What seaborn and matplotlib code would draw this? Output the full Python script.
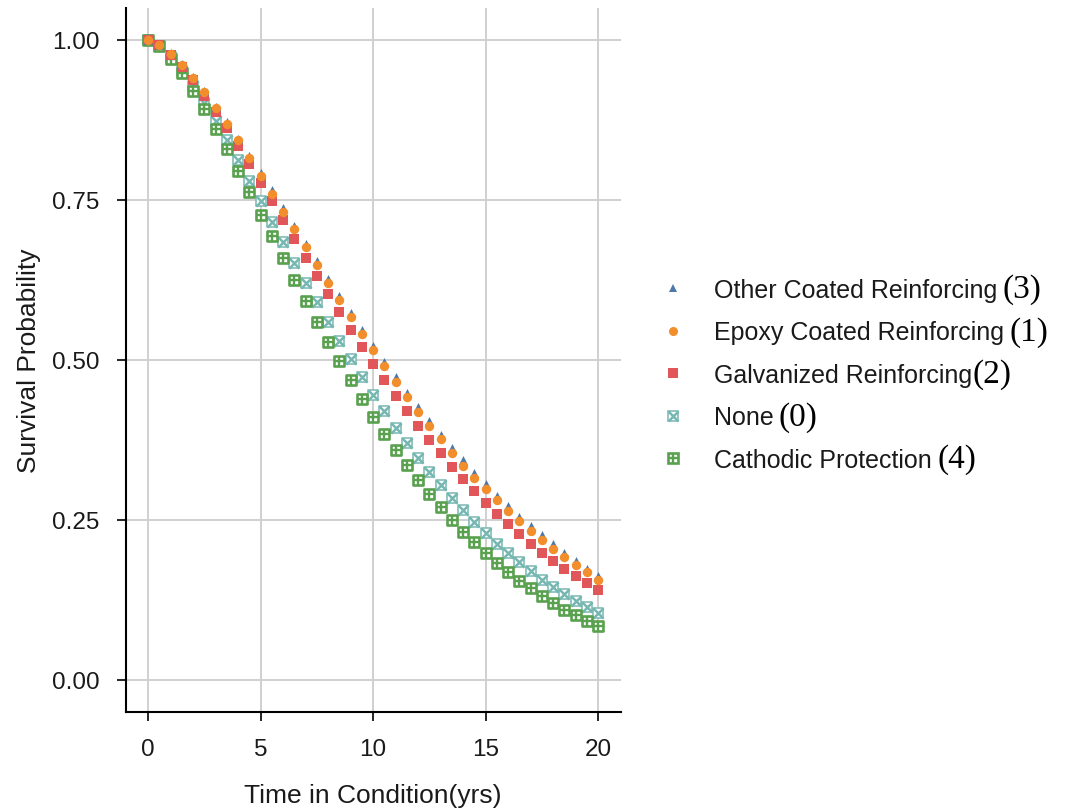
import matplotlib
matplotlib.use("Agg")
import numpy as np
import pandas as pd
import matplotlib.pyplot as plt
import seaborn as sns
from matplotlib.lines import Line2D
from matplotlib.legend_handler import HandlerTuple
from matplotlib.ticker import FormatStrFormatter

# ---------------- data ----------------
time_yrs = [0.0, 0.5, 1.0, 1.5, 2.0, 2.5, 3.0, 3.5, 4.0, 4.5, 5.0, 5.5, 6.0, 6.5,
            7.0, 7.5, 8.0, 8.5, 9.0, 9.5, 10.0, 10.5, 11.0, 11.5, 12.0, 12.5,
            13.0, 13.5, 14.0, 14.5, 15.0, 15.5, 16.0, 16.5, 17.0, 17.5, 18.0,
            18.5, 19.0, 19.5, 20.0]

other_coated = [1.000, 0.992, 0.979, 0.962, 0.942, 0.920, 0.896, 0.872, 0.846, 0.819,
                0.792, 0.765, 0.737, 0.709, 0.681, 0.654, 0.627, 0.600, 0.573, 0.547,
                0.522, 0.497, 0.473, 0.449, 0.427, 0.405, 0.383, 0.363, 0.343, 0.324,
                0.306, 0.288, 0.272, 0.255, 0.240, 0.226, 0.212, 0.199, 0.186, 0.174,
                0.163]
epoxy_coated = [1.000, 0.992, 0.978, 0.961, 0.941, 0.918, 0.894, 0.869, 0.843, 0.816,
                0.788, 0.760, 0.732, 0.704, 0.676, 0.648, 0.621, 0.593, 0.567, 0.540,
                0.515, 0.490, 0.466, 0.442, 0.419, 0.397, 0.376, 0.355, 0.335, 0.316,
                0.298, 0.281, 0.264, 0.248, 0.233, 0.219, 0.205, 0.192, 0.180, 0.168,
                0.157]
galvanized = [1.000, 0.992, 0.977, 0.958, 0.937, 0.913, 0.888, 0.862, 0.834, 0.806,
              0.777, 0.748, 0.718, 0.689, 0.660, 0.631, 0.603, 0.575, 0.547, 0.520,
              0.494, 0.469, 0.444, 0.420, 0.397, 0.375, 0.354, 0.333, 0.314, 0.295,
              0.277, 0.260, 0.243, 0.228, 0.213, 0.199, 0.186, 0.173, 0.162, 0.151,
              0.140]
none_prot = [1.000, 0.990, 0.974, 0.952, 0.928, 0.901, 0.873, 0.843, 0.812, 0.780,
             0.749, 0.716, 0.684, 0.652, 0.621, 0.590, 0.559, 0.530, 0.501, 0.473,
             0.446, 0.420, 0.394, 0.370, 0.347, 0.325, 0.304, 0.284, 0.265, 0.247,
             0.229, 0.213, 0.198, 0.184, 0.170, 0.157, 0.145, 0.134, 0.124, 0.114,
             0.105]
cathodic = [1.000, 0.990, 0.971, 0.948, 0.921, 0.892, 0.861, 0.829, 0.795, 0.762,
            0.727, 0.693, 0.659, 0.625, 0.592, 0.560, 0.528, 0.498, 0.468, 0.439,
            0.411, 0.385, 0.360, 0.336, 0.313, 0.291, 0.270, 0.250, 0.232, 0.215,
            0.198, 0.183, 0.169, 0.155, 0.143, 0.131, 0.120, 0.110, 0.101, 0.092,
            0.084]

series_names = ["Other Coated Reinforcing", "Epoxy Coated Reinforcing",
                "Galvanized Reinforcing", "None", "Cathodic Protection"]
series_codes = ["(3)", "(1)", "(2)", "(0)", "(4)"]
series_values = [other_coated, epoxy_coated, galvanized, none_prot, cathodic]
x_ticks = [0, 5, 10, 15, 20]
y_ticks = [0.00, 0.25, 0.50, 0.75, 1.00]

colors = {"Other Coated Reinforcing": "#4E79A7",
          "Epoxy Coated Reinforcing": "#F28E2B",
          "Galvanized Reinforcing": "#E15759",
          "None": "#76B7B2",
          "Cathodic Protection": "#59A14F"}

df = pd.concat([pd.DataFrame({"time": time_yrs, "surv": v, "series": n})
                for n, v in zip(series_names, series_values)], ignore_index=True)

# ---------------- style ----------------
sns.set_theme(style="white")
plt.rcParams["font.family"] = ["Liberation Sans", "DejaVu Sans"]

W, H = 1073, 812
fig = plt.figure(figsize=(W / 100, H / 100), dpi=100)
ax = fig.add_axes([125.5 / W, (H - 713) / H, 495 / W, 704 / H])

# ---------------- points ----------------
def sub(name):
    return df[df["series"] == name]

c = colors["None"]
sns.scatterplot(data=sub("None"), x="time", y="surv", ax=ax, legend=False,
                marker="s", s=55, color="white", edgecolor=c, linewidth=1.1, zorder=3)
sns.scatterplot(data=sub("None"), x="time", y="surv", ax=ax, legend=False,
                marker="x", s=55, color=c, linewidth=1.8, zorder=3)

c = colors["Cathodic Protection"]
sns.scatterplot(data=sub("Cathodic Protection"), x="time", y="surv", ax=ax, legend=False,
                marker="s", s=60, color="white", edgecolor=c, linewidth=1.9, zorder=4)
sns.scatterplot(data=sub("Cathodic Protection"), x="time", y="surv", ax=ax, legend=False,
                marker="+", s=60, color=c, linewidth=1.7, zorder=4)

sns.scatterplot(data=sub("Galvanized Reinforcing"), x="time", y="surv", ax=ax, legend=False,
                marker="s", s=46, color=colors["Galvanized Reinforcing"], linewidth=0, zorder=5)
sns.scatterplot(data=sub("Other Coated Reinforcing"), x="time", y="surv", ax=ax, legend=False,
                marker="^", s=42, color=colors["Other Coated Reinforcing"], linewidth=0, zorder=6)
sns.scatterplot(data=sub("Epoxy Coated Reinforcing"), x="time", y="surv", ax=ax, legend=False,
                marker="o", s=46, color=colors["Epoxy Coated Reinforcing"], linewidth=0, zorder=7)

# ---------------- axes ----------------
ax.set_xlim(-1, 21)
ax.set_ylim(-0.05, 1.05)
ax.set_xticks(x_ticks)
ax.set_yticks(y_ticks)
ax.yaxis.set_major_formatter(FormatStrFormatter("%.2f"))
ax.grid(True, color="#d0d0d0", linewidth=1.4)
ax.set_axisbelow(True)
for side in ["top", "right"]:
    ax.spines[side].set_visible(False)
for side in ["left", "bottom"]:
    ax.spines[side].set_color("black")
    ax.spines[side].set_linewidth(1.5)
ax.tick_params(axis="both", which="major", direction="out", length=6.5, width=1.2,
               color="black", labelsize=17.5, labelcolor="#1a1a1a", pad=12,
               bottom=True, left=True)
ax.set_xlabel("Time in Condition(yrs)", fontsize=19, color="#1a1a1a", labelpad=17)
ax.set_ylabel("Survival Probability", fontsize=19, color="#1a1a1a", labelpad=8)

# ---------------- legend ----------------
def h_simple(marker, color, ms):
    return Line2D([], [], linestyle="none", marker=marker, markersize=ms,
                  markerfacecolor=color, markeredgewidth=0, color=color)

handles = [
    h_simple("^", colors["Other Coated Reinforcing"], 6.3),
    h_simple("o", colors["Epoxy Coated Reinforcing"], 6.5),
    h_simple("s", colors["Galvanized Reinforcing"], 6.5),
    (Line2D([], [], linestyle="none", marker="s", markersize=7, markerfacecolor="white",
            markeredgecolor=colors["None"], markeredgewidth=1.1),
     Line2D([], [], linestyle="none", marker="x", markersize=7, color=colors["None"],
            markeredgewidth=1.8)),
    (Line2D([], [], linestyle="none", marker="s", markersize=7.5, markerfacecolor="white",
            markeredgecolor=colors["Cathodic Protection"], markeredgewidth=1.9),
     Line2D([], [], linestyle="none", marker="+", markersize=7.5,
            color=colors["Cathodic Protection"], markeredgewidth=1.7)),
]
leg = fig.legend(handles, series_names, loc="center left",
                 bbox_to_anchor=(660 / W, 1 - 376 / H), frameon=False,
                 fontsize=18, handlelength=1.0, handletextpad=1.15,
                 labelspacing=0.74, borderpad=0, borderaxespad=0,
                 handler_map={tuple: HandlerTuple(ndivide=1, pad=0)})
for t in leg.get_texts():
    t.set_color("#1a1a1a")

fig.canvas.draw()
renderer = fig.canvas.get_renderer()
gaps = [6, 6, 1, 5, 6]
for t, code, gap in zip(leg.get_texts(), series_codes, gaps):
    bb = t.get_window_extent(renderer)
    _, _, d_txt = renderer.get_text_width_height_descent(
        t.get_text(), t.get_fontproperties(), ismath=False)
    _, _, d_lp = renderer.get_text_width_height_descent(
        "lp", t.get_fontproperties(), ismath=False)
    baseline = bb.y0 + max(d_txt, d_lp)
    fig.text((bb.x1 + gap) / W, baseline / H, code, fontsize=24,
             family=["Liberation Serif", "DejaVu Serif"], color="black",
             ha="left", va="baseline")

fig.savefig("out.png", dpi=100)
